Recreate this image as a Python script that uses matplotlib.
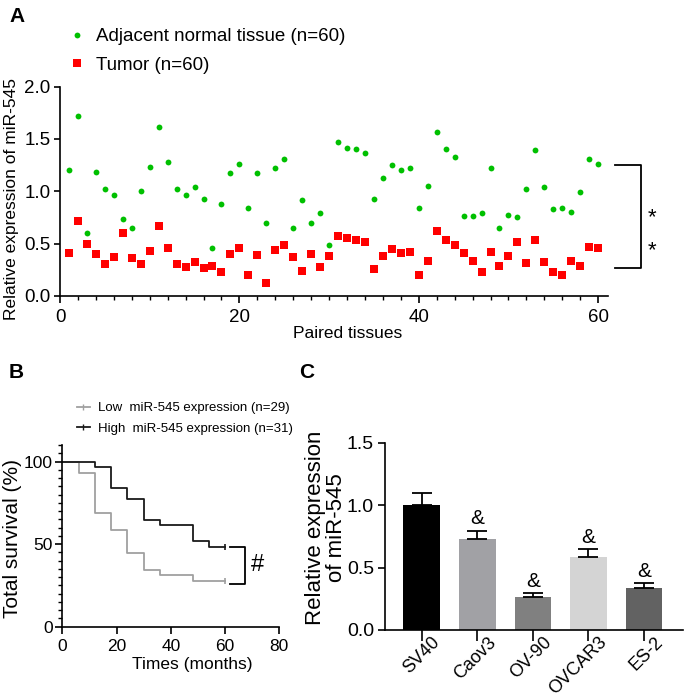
import numpy as np
import matplotlib
matplotlib.use("Agg")
import matplotlib.pyplot as plt
from matplotlib.lines import Line2D
from matplotlib.transforms import ScaledTranslation

plt.rcParams['font.family'] = ['Liberation Sans', 'DejaVu Sans']

# ---- Panel A: paired tissues ----
pair_idx = list(range(1, 61))
normal_expr = [1.20, 1.72, 0.60, 1.18, 1.02, 0.965, 0.735, 0.65, 1.005, 1.235,
               1.61, 1.28, 1.02, 0.965, 1.045, 0.93, 0.455, 0.88, 1.175, 1.26,
               0.845, 1.175, 0.70, 1.22, 1.305, 0.65, 0.915, 0.695, 0.795, 0.49,
               1.475, 1.415, 1.405, 1.37, 0.925, 1.13, 1.255, 1.20, 1.225, 0.845,
               1.055, 1.565, 1.405, 1.325, 0.765, 0.765, 0.79, 1.22, 0.645, 0.775,
               0.755, 1.025, 1.395, 1.045, 0.83, 0.845, 0.805, 0.99, 1.305, 1.265]
tumor_expr = [0.41, 0.72, 0.50, 0.40, 0.305, 0.375, 0.60, 0.36, 0.305, 0.43,
              0.665, 0.46, 0.305, 0.275, 0.325, 0.265, 0.285, 0.23, 0.40, 0.455,
              0.205, 0.39, 0.125, 0.435, 0.485, 0.375, 0.24, 0.40, 0.275, 0.385,
              0.575, 0.55, 0.535, 0.515, 0.255, 0.385, 0.445, 0.415, 0.425, 0.20,
              0.33, 0.625, 0.535, 0.485, 0.415, 0.335, 0.23, 0.425, 0.285, 0.385,
              0.515, 0.315, 0.535, 0.32, 0.225, 0.20, 0.33, 0.29, 0.47, 0.455]

# ---- Panel B: Kaplan-Meier ----
km_low_t = [0, 6, 12, 18, 24, 30, 36, 48, 60]
km_low_s = [100, 93.1, 69.0, 58.6, 44.8, 34.5, 31.0, 27.6, 27.6]
km_high_t = [0, 12, 18, 24, 30, 36, 48, 54, 60]
km_high_s = [100, 96.8, 83.9, 77.4, 64.5, 61.3, 51.6, 48.4, 48.4]

# ---- Panel C: cell lines ----
cell_lines = ['SV40', 'Caov3', 'OV-90', 'OVCAR3', 'ES-2']
cell_mean = [1.0, 0.725, 0.267, 0.585, 0.337]
cell_err = [0.10, 0.07, 0.028, 0.062, 0.038]
cell_colors = ['#000000', '#a1a1a5', '#808080', '#d4d4d4', '#626262']

W, H = 685, 698
fig = plt.figure(figsize=(W / 100, H / 100), dpi=100)


def box(x0, x1, ytop, ybot):
    return [x0 / W, 1 - ybot / H, (x1 - x0) / W, (ybot - ytop) / H]


def fx(px):
    return px / W


def fy(py):
    return 1 - py / H


def style(ax, fs):
    for s in ['top', 'right']:
        ax.spines[s].set_visible(False)
    for s in ['left', 'bottom']:
        ax.spines[s].set_linewidth(1.2)
    ax.tick_params(which='major', direction='out', length=4, width=1.2,
                   labelsize=fs, pad=3)
    ax.tick_params(which='minor', direction='out', length=3, width=1.0)


# ---------------- A ----------------
axA = fig.add_axes(box(60, 608, 86.6, 296))
style(axA, 13.5)
gA, = axA.plot(pair_idx, normal_expr, 'o', color='#00c000', ms=4.2, mew=0,
               label='Adjacent normal tissue (n=60)', clip_on=False)
rA, = axA.plot(pair_idx, tumor_expr, 's', color='#ff0000', ms=5.8, mew=0,
               label='Tumor (n=60)', clip_on=False)
axA.set_xlim(0, 61.1)
axA.set_ylim(0, 2.0)
axA.set_xticks([0, 20, 40, 60])
axA.set_xticks(np.arange(0, 61, 2), minor=True)
axA.set_yticks([0, 0.5, 1.0, 1.5, 2.0])
axA.set_yticklabels(['0.0', '0.5', '1.0', '1.5', '2.0'])
axA.tick_params(axis='x', which='major', length=5, pad=4)
axA.set_ylabel('Relative expression of miR-545', fontsize=12.5, va='center')
axA.yaxis.set_label_coords(-0.088, 0.463)
axA.set_xlabel('Paired tissues', fontsize=12.5, va='center')
axA.xaxis.set_label_coords(0.525, -0.178)
axA.legend(handles=[gA, rA], loc='upper left', bbox_to_anchor=(fx(68), fy(28)),
           bbox_transform=fig.transFigure, frameon=False, fontsize=13.5,
           handlelength=1.0, handletextpad=0.5, labelspacing=0.6,
           borderpad=0, borderaxespad=0)
# significance bracket
axA.plot([61.9, 64.8, 64.8, 61.9], [1.25, 1.25, 0.27, 0.27], color='black',
         lw=1.3, clip_on=False)
axA.text(65.5, 0.75, '*', fontsize=16, ha='left', va='center')
axA.text(65.5, 0.43, '*', fontsize=16, ha='left', va='center')

# ---------------- B ----------------
axB = fig.add_axes(box(62.3, 279.3, 445, 626.7))
style(axB, 12.5)
lowB, = axB.step(km_low_t, km_low_s, where='post', color='#a0a0a0', lw=1.3)
highB, = axB.step(km_high_t, km_high_s, where='post', color='#1a1a1a', lw=1.3)
axB.plot(km_low_t[-1], km_low_s[-1], '|', color='#a0a0a0', ms=5, mew=1.2)
axB.plot(km_high_t[-1], km_high_s[-1], '|', color='#1a1a1a', ms=5, mew=1.2)
axB.set_xlim(0, 80)
axB.set_ylim(0, 110)
axB.set_xticks([0, 20, 40, 60, 80])
axB.set_yticks([0, 50, 100])
axB.set_yticks(np.arange(0, 111, 5), minor=True)
axB.tick_params(axis='y', which='major', length=5, pad=2)
axB.tick_params(axis='x', which='major', length=5, pad=4)
axB.set_ylabel('Total survival (%)', fontsize=15, va='center')
axB.yaxis.set_label_coords(-0.228, 0.488)
axB.set_xlabel('Times (months)', fontsize=12.5, va='center')
axB.xaxis.set_label_coords(0.6, -0.21)
axB.plot([61.8, 67.4, 67.4, 61.8], [48.4, 48.4, 26, 26], color='black',
         lw=1.3, clip_on=False)
axB.text(69.5, 37.2, '#', fontsize=17, ha='left', va='center')
hB = [Line2D([], [], color='#a0a0a0', lw=1.3, marker='|', ms=5),
      Line2D([], [], color='#1a1a1a', lw=1.3, marker='|', ms=5)]
axB.legend(handles=hB, labels=['Low  miR-545 expression (n=29)',
                               'High  miR-545 expression (n=31)'],
           loc='upper left', bbox_to_anchor=(fx(77), fy(402)),
           bbox_transform=fig.transFigure, frameon=False, fontsize=9.5,
           handlelength=0.96, handletextpad=0.6, labelspacing=0.65,
           borderpad=0, borderaxespad=0)

# ---------------- C ----------------
axC = fig.add_axes(box(385, 683, 442.7, 630))
style(axC, 14)
xc = np.arange(len(cell_lines))
axC.bar(xc, cell_mean, width=0.66, color=cell_colors, zorder=2)
axC.errorbar(xc, cell_mean, yerr=[np.zeros(len(xc)), cell_err], fmt='none',
             ecolor='black', elinewidth=1.3, capsize=7, capthick=1.3, zorder=3)
for x, m, e in zip(xc, cell_mean, cell_err):
    if x > 0:
        axC.text(x, m + e + 0.02, '&', fontsize=15, ha='center', va='bottom')
axC.set_xlim(-0.66, 4.7)
axC.set_ylim(0, 1.5)
axC.set_yticks([0, 0.5, 1.0, 1.5])
axC.set_yticklabels(['0.0', '0.5', '1.0', '1.5'])
axC.set_xticks(xc)
axC.set_xticklabels([])
# rotated category labels, nudged right/up like the original
lab_tr = axC.get_xaxis_transform() + ScaledTranslation(10 / 100, -4 / 100,
                                                        fig.dpi_scale_trans)
for x, name in zip(xc, cell_lines):
    axC.text(x, 0, name, transform=lab_tr, rotation=45, ha='right', va='top',
             rotation_mode='anchor', fontsize=13)
axC.tick_params(axis='x', which='major', length=8, pad=0)
axC.tick_params(axis='y', which='major', length=5)
axC.set_ylabel('Relative expression\nof miR-545', fontsize=16, linespacing=1.0,
               va='center')
axC.yaxis.set_label_coords(-0.198, 0.545)

# panel letters
fig.text(fx(9), fy(22), 'A', fontsize=15, fontweight='bold', ha='left', va='baseline')
fig.text(fx(9), fy(378), 'B', fontsize=15, fontweight='bold', ha='left', va='baseline')
fig.text(fx(299), fy(378), 'C', fontsize=15, fontweight='bold', ha='left', va='baseline')

fig.savefig('out.png', dpi=100)
plt.close(fig)
